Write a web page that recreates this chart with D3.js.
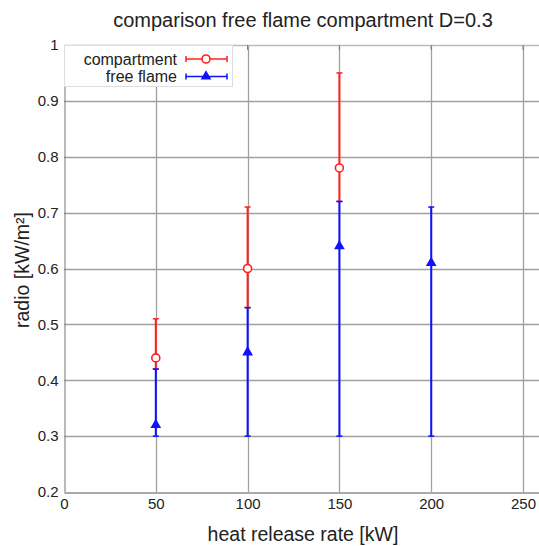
<!DOCTYPE html>
<html><head><meta charset="utf-8">
<script src="https://cdn.jsdelivr.net/npm/d3@7"></script>
<style>body{margin:0;background:#fff}svg{display:block}text{font-family:"Liberation Sans",Arial,sans-serif;fill:#222}</style>
</head><body><svg id="c" width="539" height="546"></svg>
<script>
const xTicks = [0, 50, 100, 150, 200, 250];
const yTicks = [0.2, 0.3, 0.4, 0.5, 0.6, 0.7, 0.8, 0.9, 1];
const hrr = [50, 100, 150];
const compVal = [0.44, 0.60, 0.78];
const compLow = [0.42, 0.53, 0.72];
const compHigh = [0.51, 0.71, 0.95];
const hrrFree = [50, 100, 150, 200];
const freeVal = [0.32, 0.45, 0.64, 0.61];
const freeLow = [0.30, 0.30, 0.30, 0.30];
const freeHigh = [0.42, 0.53, 0.72, 0.71];

const svg = d3.select("#c");
const L = 64, T = 45, B = 492;
const x = d3.scaleLinear().domain([0, 260]).range([L, L + (523 - 64) * 260 / 250]);
const y = d3.scaleLinear().domain([0.2, 1]).range([B, T]);

// grid
const g = svg.append("g");
g.selectAll(".vg").data(xTicks.slice(1)).enter().append("line")
  .attr("x1", d => Math.round(x(d)) + 0.5).attr("x2", d => Math.round(x(d)) + 0.5)
  .attr("y1", T).attr("y2", B).attr("stroke", "#a0a0a0").attr("stroke-width", 1.3);
g.selectAll(".hg").data(yTicks.slice(1, -1)).enter().append("line")
  .attr("x1", L).attr("x2", 539).attr("y1", d => Math.round(y(d)) + 0.5).attr("y2", d => Math.round(y(d)) + 0.5)
  .attr("stroke", "#a0a0a0").attr("stroke-width", 1.3);

// axes
const xa = svg.append("g").attr("transform", `translate(0,${B + 0.5})`)
  .call(d3.axisBottom(x).tickValues(xTicks).tickSize(0).tickPadding(6).tickFormat(d3.format("d")));
xa.select(".domain").attr("stroke", "#555");
xa.selectAll("text").style("font-size", "15px").attr("fill", "#222");
const ya = svg.append("g").attr("transform", `translate(${L + 0.5},0)`)
  .call(d3.axisLeft(y).tickValues(yTicks).tickSize(0).tickPadding(6).tickFormat(d => d === 1 ? "1" : d3.format(".1f")(d)));
ya.select(".domain").attr("stroke", "#777");
ya.selectAll("text").style("font-size", "15px").attr("fill", "#222");
// top border
svg.append("line").attr("x1", L).attr("x2", 539).attr("y1", T + 0.5).attr("y2", T + 0.5).attr("stroke", "#bbb").attr("stroke-width", 1.5);
// top ticks inward
xTicks.slice(1).forEach(d => {
  svg.append("line").attr("x1", x(d)).attr("x2", x(d)).attr("y1", T).attr("y2", T + 5).attr("stroke", "#777");
});

// error bars
function errbars(xs, vals, lo, hi, color) {
  const gg = svg.append("g");
  xs.forEach((d, i) => {
    const cx = x(d);
    gg.append("line").attr("x1", cx).attr("x2", cx).attr("y1", y(lo[i])).attr("y2", y(hi[i]))
      .attr("stroke", color).attr("stroke-width", 2);
    [lo[i], hi[i]].forEach(v => gg.append("line").attr("x1", cx - 3).attr("x2", cx + 3)
      .attr("y1", y(v)).attr("y2", y(v)).attr("stroke", color).attr("stroke-width", 1.5));
  });
  return gg;
}
const gc = errbars(hrr, compVal, compLow, compHigh, "#ff2020");
gc.selectAll("circle.m").data(hrr).enter().append("circle")
  .attr("cx", d => x(d)).attr("cy", (d, i) => y(compVal[i])).attr("r", 4)
  .attr("fill", "#fff").attr("stroke", "#ff2020").attr("stroke-width", 1.6);
const gf = errbars(hrrFree, freeVal, freeLow, freeHigh, "#1010ff");
const tri = d3.symbol().type(d3.symbolTriangle).size(50);
gf.selectAll("path.m").data(hrrFree).enter().append("path")
  .attr("d", tri).attr("transform", (d, i) => `translate(${x(d)},${y(freeVal[i])})`).attr("fill", "#1010ff");

// legend
const lg = svg.append("g");
lg.append("rect").attr("x", L + 0.5).attr("y", T + 0.5).attr("width", 168).attr("height", 41)
  .attr("fill", "#fff").attr("stroke", "#ddd");
const items = [["compartment", "#ff2020", "c"], ["free flame", "#1010ff", "t"]];
items.forEach((it, i) => {
  const yy = 59 + i * 17.5;
  lg.append("text").attr("x", 177).attr("y", yy).attr("dy", "0.35em").attr("text-anchor", "end")
    .style("font-size", "16px").text(it[0]);
  lg.append("line").attr("x1", 186).attr("x2", 227).attr("y1", yy).attr("y2", yy).attr("stroke", it[1]).attr("stroke-width", 1.6);
  [186, 227].forEach(xx => lg.append("line").attr("x1", xx).attr("x2", xx).attr("y1", yy - 3).attr("y2", yy + 3).attr("stroke", it[1]).attr("stroke-width", 1.5));
  if (it[2] === "c") lg.append("circle").attr("cx", 206).attr("cy", yy).attr("r", 4).attr("fill", "#fff").attr("stroke", it[1]).attr("stroke-width", 1.6);
  else lg.append("path").attr("d", tri).attr("transform", `translate(206,${yy})`).attr("fill", it[1]);
});

// titles
svg.append("text").attr("x", 303).attr("y", 27).attr("text-anchor", "middle").style("font-size", "20px")
  .text("comparison free flame compartment D=0.3");
svg.append("text").attr("x", 303).attr("y", 541).attr("text-anchor", "middle").style("font-size", "19.5px")
  .text("heat release rate [kW]");
svg.append("text").attr("transform", "translate(29,270) rotate(-90)").attr("text-anchor", "middle").style("font-size", "19.5px")
  .text("radio [kW/m²]");
</script></body></html>
